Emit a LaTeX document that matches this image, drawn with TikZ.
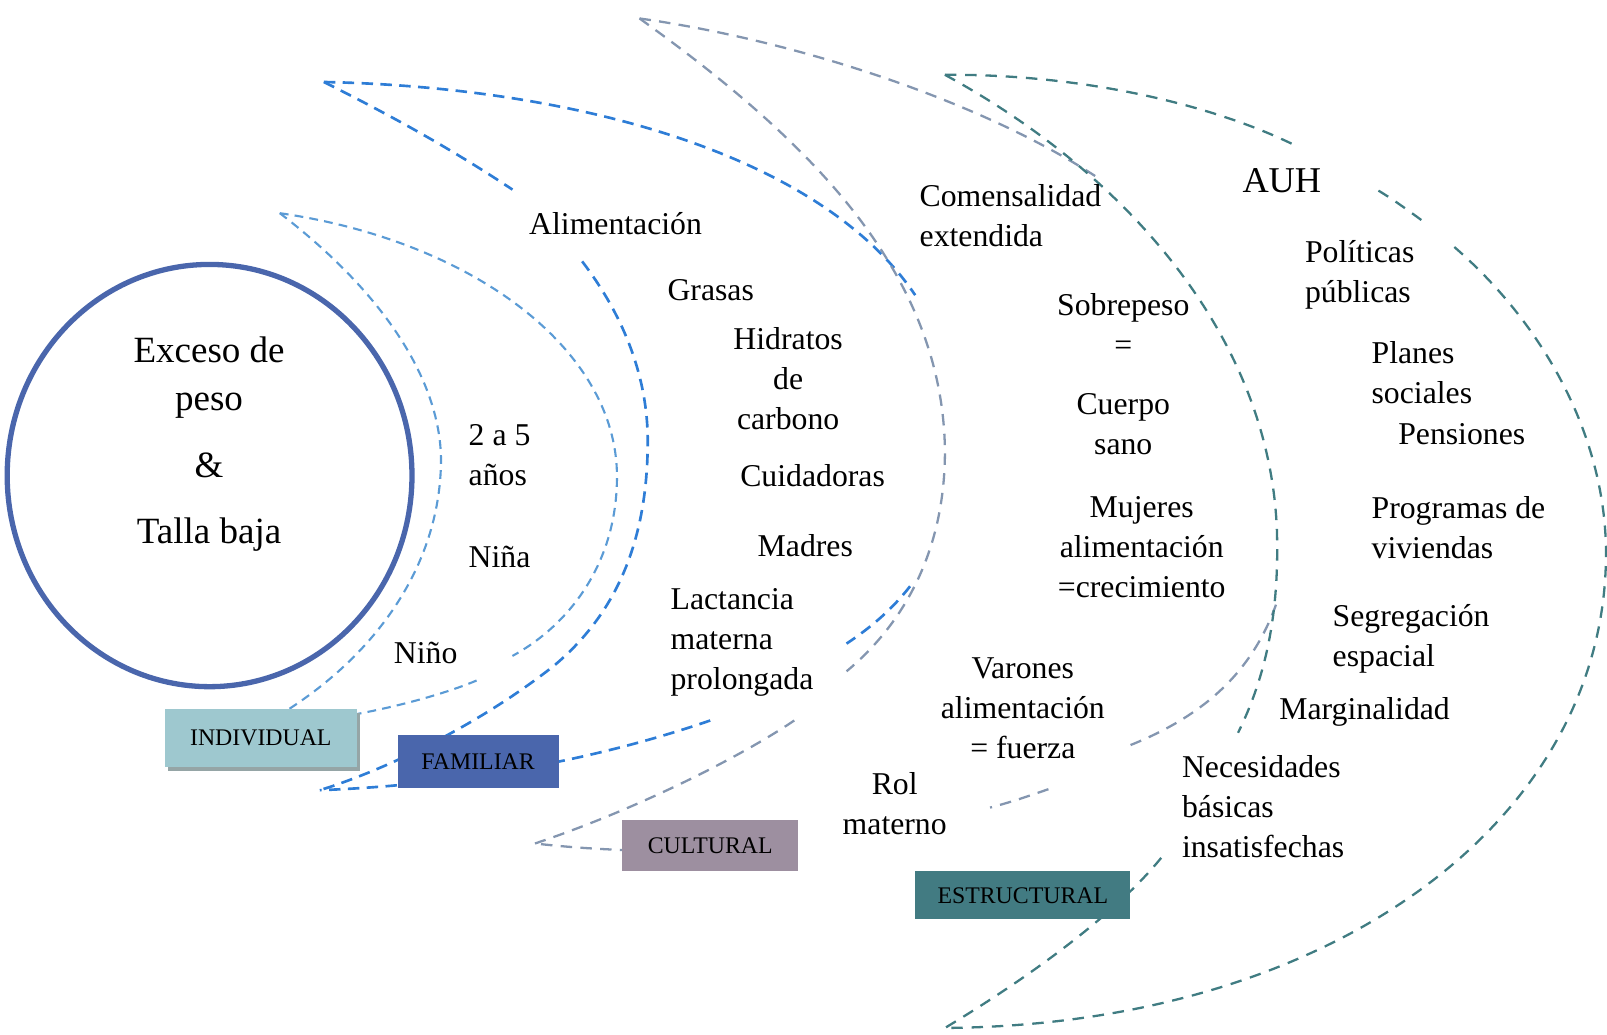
\documentclass[tikz,border=0pt]{standalone}
\usepackage{fontspec}
\setmainfont{Liberation Serif}
\usetikzlibrary{shapes.geometric,shadows}
\definecolor{ringblue}{RGB}{74,102,172}
\definecolor{indcol}{RGB}{91,155,213}
\definecolor{famcol}{RGB}{46,125,214}
\definecolor{culcol}{RGB}{132,150,176}
\definecolor{estcol}{RGB}{64,124,130}
\definecolor{indbox}{RGB}{158,200,207}
\definecolor{indshadow}{RGB}{149,165,166}
\definecolor{cultbox}{RGB}{157,143,160}
\definecolor{estbox}{RGB}{66,123,130}
\tikzset{
  crescA/.style={draw=indcol, line width=1.2pt, dash pattern=on 5pt off 3.5pt},
  crescB/.style={draw=famcol, line width=1.5pt, dash pattern=on 6.5pt off 4.2pt},
  crescC/.style={draw=culcol, line width=1.3pt, dash pattern=on 6.5pt off 4.7pt},
  crescD/.style={draw=estcol, line width=1.3pt, dash pattern=on 6.5pt off 5pt},
  lbl/.style={font=\fontsize{18}{22.7}\selectfont, inner sep=0pt, align=left},
  clbl/.style={lbl, align=center},
  corelbl/.style={font=\fontsize{21}{27.3}\selectfont, inner sep=0pt, align=center},
  levelbox/.style={inner sep=0pt, font=\fontsize{13.5}{16}\selectfont}
}
\begin{document}
\begin{tikzpicture}[x=0.5813pt, y=-0.5813pt]
\useasboundingbox (0,0) rectangle (1568,1009);

% central circle
\node[ellipse, draw=ringblue, line width=3pt, minimum width=229.6pt, minimum height=239.5pt, inner sep=0pt] (core) at (204.5,464) {};

% crescent 1 (individual)
\draw[crescA] (273,208) .. controls (380,290) and (435,380) .. (430,460)
              .. controls (425,560) and (360,650) .. (255,708);
\draw[crescA] (273,208) .. controls (460,235) and (602,340) .. (602,465)
              .. controls (602,550) and (555,610) .. (500,640);
\draw[crescA] (465,664) .. controls (420,683) and (330,705) .. (255,708);

% crescent 2 (familiar)
\draw[crescB] (316,80) .. controls (560,85) and (800,150) .. (893,288);
\draw[crescB] (888,572) .. controls (870,595) and (850,612) .. (826,628);
\draw[crescB] (693,703) .. controls (600,735) and (470,765) .. (312,771);
\draw[crescB] (316,80) .. controls (380,112) and (440,145) .. (500,185);
\draw[crescB] (568,255) .. controls (610,310) and (632,370) .. (632,430)
              .. controls (632,530) and (600,600) .. (540,650)
              .. controls (470,705) and (380,750) .. (312,771);

% crescent 3 (cultural)
\draw[crescC] (624,18) .. controls (780,40) and (960,100) .. (1072,174);
\draw[crescC] (1245,590) .. controls (1220,660) and (1170,700) .. (1103,727);
\draw[crescC] (1023,770) .. controls (1000,778) and (985,783) .. (966,788);
\draw[crescC] (770,828) .. controls (690,832) and (600,832) .. (522,823);
\draw[crescC] (624,18) .. controls (780,130) and (920,260) .. (922,440)
              .. controls (922,540) and (880,610) .. (826,655);
\draw[crescC] (775,703) .. controls (720,740) and (620,790) .. (522,823);

% crescent 4 (estructural)
\draw[crescD] (922,73) .. controls (1050,72) and (1180,100) .. (1266,143);
\draw[crescD] (1345,186) .. controls (1360,195) and (1375,206) .. (1390,217);
\draw[crescD] (1419,241) .. controls (1510,320) and (1567,430) .. (1567,540)
              .. controls (1567,800) and (1300,1000) .. (922,1003);
\draw[crescD] (922,73) .. controls (1100,170) and (1240,330) .. (1246,520)
              .. controls (1248,600) and (1235,660) .. (1208,715);
\draw[crescD] (1133,837) .. controls (1090,890) and (1010,950) .. (922,1003);

% level boxes
\node[levelbox, fill=indbox, minimum width=108.7pt, minimum height=32.6pt,
      general shadow={fill=indshadow, shadow xshift=1.8pt, shadow yshift=-2.4pt}] (individual) at (254.5,720) {INDIVIDUAL};
\node[levelbox, fill=ringblue, minimum width=91.3pt, minimum height=30.2pt] (familiar) at (466.5,743) {FAMILIAR};
\node[levelbox, fill=cultbox, minimum width=100pt, minimum height=29.1pt] (cultural) at (693,825) {CULTURAL};
\node[levelbox, fill=estbox, minimum width=122.1pt, minimum height=27.3pt] (estructural) at (998,873.5) {ESTRUCTURAL};

% core text
\node[corelbl] (exceso) at (204,368.5) {Exceso de\\peso};
\node[corelbl] (amp) at (204,454) {\&};
\node[corelbl] (talla) at (204,522) {Talla baja};

% individual
\node[lbl, anchor=west] (edad) at (457,444.5) {2 a 5\\años};
\node[lbl, anchor=west] (nina) at (457,543) {Niña};
\node[lbl, anchor=west] (nino) at (384,637) {Niño};

% familiar
\node[lbl, anchor=west] (alim) at (516,218) {Alimentación};
\node[lbl, anchor=west] (grasas) at (651,283) {Grasas};
\node[clbl] (hidratos) at (769,369) {Hidratos\\de\\carbono};
\node[lbl, anchor=west] (cuidadoras) at (722,464) {Cuidadoras};
\node[lbl, anchor=west] (madres) at (739,532) {Madres};
\node[lbl, anchor=west] (lactancia) at (654,627) {Lactancia\\materna\\prolongada};

% cultural
\node[lbl, anchor=west] (comensal) at (897,210.5) {Comensalidad\\extendida};
\node[clbl] (sobrepeso) at (1096,317) {Sobrepeso\\=};
\node[clbl] (cuerpo) at (1096,413.5) {Cuerpo\\sano};
\node[clbl] (mujeres) at (1114,534) {Mujeres\\alimentación\\=crecimiento};
\node[clbl] (varones) at (998,691) {Varones\\alimentación\\= fuerza};
\node[clbl] (rol) at (873,784) {Rol\\materno};

% estructural
\node[lbl, anchor=west, font=\fontsize{20.6}{25}\selectfont] (auh) at (1212,176) {AUH};
\node[lbl, anchor=west] (politicas) at (1273,268.5) {Políticas\\públicas};
\node[lbl, anchor=west] (planes) at (1338,364) {Planes\\sociales};
\node[lbl, anchor=west] (pensiones) at (1364,424) {Pensiones};
\node[lbl, anchor=west] (programas) at (1338,515) {Programas de\\viviendas};
\node[lbl, anchor=west] (segregacion) at (1300,623) {Segregación\\espacial};
\node[lbl, anchor=west] (marginalidad) at (1248,695) {Marginalidad};
\node[lbl, anchor=west] (necesidades) at (1153,787) {Necesidades\\básicas\\insatisfechas};
\end{tikzpicture}
\end{document}
